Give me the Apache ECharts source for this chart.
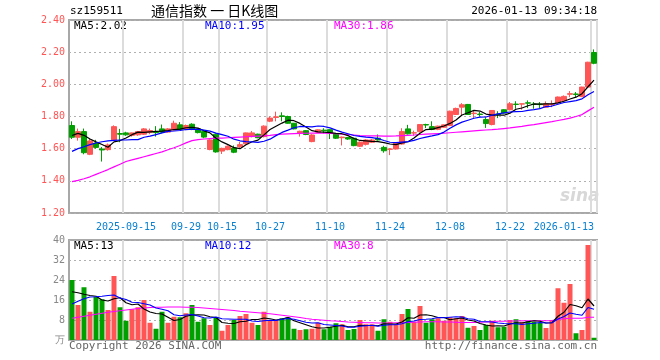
<!DOCTYPE html>
<html><head><meta charset="utf-8">
<script src="https://cdn.jsdelivr.net/npm/echarts@6/dist/echarts.min.js"></script>
<style>html,body{margin:0;padding:0;background:#fff}#c{width:660px;height:360px}</style>
</head><body><div id="c"></div>
<script>
const dates = ['2025-09-02','2025-09-03','2025-09-04','2025-09-05','2025-09-08','2025-09-09','2025-09-10','2025-09-11','2025-09-12','2025-09-15','2025-09-16','2025-09-17','2025-09-18','2025-09-19','2025-09-22','2025-09-23','2025-09-24','2025-09-25','2025-09-26','2025-09-29','2025-09-30','2025-10-09','2025-10-10','2025-10-13','2025-10-14','2025-10-15','2025-10-16','2025-10-17','2025-10-20','2025-10-21','2025-10-22','2025-10-23','2025-10-24','2025-10-27','2025-10-28','2025-10-29','2025-10-30','2025-10-31','2025-11-03','2025-11-04','2025-11-05','2025-11-06','2025-11-07','2025-11-10','2025-11-11','2025-11-12','2025-11-13','2025-11-14','2025-11-17','2025-11-18','2025-11-19','2025-11-20','2025-11-21','2025-11-24','2025-11-25','2025-11-26','2025-11-27','2025-11-28','2025-12-01','2025-12-02','2025-12-03','2025-12-04','2025-12-05','2025-12-08','2025-12-09','2025-12-10','2025-12-11','2025-12-12','2025-12-15','2025-12-16','2025-12-17','2025-12-18','2025-12-19','2025-12-22','2025-12-23','2025-12-24','2025-12-25','2025-12-26','2025-12-29','2025-12-30','2025-12-31','2026-01-05','2026-01-06','2026-01-07','2026-01-08','2026-01-09','2026-01-12','2026-01-13'];

const opens = [1.744,1.671,1.706,1.565,1.635,1.598,1.594,1.654,1.694,1.698,
1.683,1.686,1.690,1.700,1.704,1.723,1.703,1.717,1.748,1.720,
1.752,1.723,1.706,1.595,1.690,1.585,1.594,1.604,1.612,1.630,
1.675,1.690,1.675,1.771,1.794,1.804,1.800,1.758,1.698,1.712,
1.644,1.702,1.715,1.718,1.692,1.668,1.669,1.665,1.615,1.627,
1.640,1.665,1.608,1.596,1.598,1.629,1.723,1.697,1.706,1.750,
1.737,1.720,1.733,1.744,1.8125,1.858,1.875,1.818,1.815,1.781,
1.750,1.815,1.842,1.842,1.877,1.877,1.885,1.877,1.877,1.858,
1.874,1.885,1.900,1.938,1.940,1.925,1.983,2.198];
const closes = [1.671,1.706,1.575,1.648,1.608,1.592,1.623,1.737,1.690,1.686,
1.698,1.706,1.723,1.713,1.700,1.703,1.723,1.758,1.720,1.744,
1.720,1.700,1.672,1.654,1.580,1.602,1.615,1.578,1.625,1.698,
1.698,1.668,1.740,1.790,1.798,1.800,1.758,1.723,1.708,1.688,
1.685,1.717,1.710,1.700,1.665,1.672,1.660,1.619,1.640,1.654,
1.654,1.654,1.587,1.598,1.633,1.706,1.692,1.699,1.750,1.747,
1.719,1.740,1.748,1.833,1.850,1.873,1.8125,1.821,1.8125,1.756,
1.8375,1.8125,1.821,1.879,1.875,1.879,1.883,1.875,1.874,1.879,
1.877,1.921,1.925,1.942,1.937,1.983,2.1375,2.131];
const lows = [1.660,1.650,1.565,1.560,1.600,1.520,1.588,1.650,1.640,1.680,
1.675,1.680,1.685,1.690,1.675,1.695,1.700,1.712,1.715,1.715,
1.715,1.695,1.665,1.590,1.575,1.567,1.590,1.572,1.605,1.625,
1.670,1.665,1.670,1.765,1.770,1.770,1.755,1.720,1.675,1.684,
1.640,1.700,1.695,1.660,1.660,1.620,1.655,1.615,1.610,1.620,
1.635,1.650,1.575,1.560,1.595,1.625,1.688,1.680,1.700,1.728,
1.715,1.715,1.730,1.740,1.810,1.806,1.810,1.790,1.800,1.729,
1.745,1.790,1.818,1.838,1.848,1.842,1.852,1.848,1.848,1.855,
1.858,1.880,1.898,1.920,1.917,1.920,1.980,2.125];
const highs = [1.770,1.725,1.725,1.660,1.655,1.610,1.632,1.745,1.723,1.705,
1.700,1.710,1.728,1.725,1.740,1.750,1.728,1.774,1.765,1.750,
1.758,1.728,1.710,1.658,1.695,1.606,1.620,1.620,1.643,1.700,
1.710,1.693,1.745,1.800,1.830,1.826,1.805,1.760,1.712,1.716,
1.690,1.720,1.727,1.720,1.695,1.675,1.672,1.668,1.645,1.658,
1.660,1.688,1.618,1.602,1.636,1.727,1.748,1.712,1.753,1.755,
1.770,1.743,1.750,1.836,1.855,1.883,1.878,1.838,1.828,1.796,
1.840,1.833,1.845,1.890,1.895,1.880,1.900,1.890,1.890,1.894,
1.900,1.924,1.931,1.958,1.952,1.985,2.140,2.217];

const ma5 = [1.682,1.695,1.683,1.660,1.642,1.626,1.609,1.642,1.650,1.666,
1.687,1.703,1.701,1.705,1.708,1.709,1.712,1.719,1.721,1.730,
1.733,1.728,1.711,1.698,1.665,1.642,1.625,1.606,1.600,1.624,
1.643,1.653,1.686,1.719,1.739,1.759,1.777,1.774,1.757,1.735,
1.712,1.704,1.702,1.700,1.695,1.693,1.681,1.663,1.651,1.649,
1.645,1.644,1.638,1.629,1.625,1.636,1.643,1.666,1.696,1.719,
1.721,1.731,1.741,1.757,1.778,1.809,1.823,1.838,1.834,1.815,
1.808,1.808,1.808,1.821,1.845,1.853,1.867,1.878,1.877,1.878,
1.878,1.885,1.895,1.909,1.920,1.942,1.985,2.026];
const ma10 = [1.583,1.600,1.612,1.625,1.635,1.643,1.649,1.652,1.654,1.654,
1.656,1.656,1.671,1.678,1.687,1.698,1.708,1.710,1.713,1.719,
1.721,1.720,1.715,1.709,1.697,1.687,1.677,1.659,1.649,1.644,
1.642,1.639,1.646,1.659,1.681,1.701,1.715,1.730,1.738,1.737,
1.736,1.741,1.738,1.729,1.715,1.703,1.693,1.682,1.676,1.672,
1.669,1.663,1.651,1.640,1.637,1.641,1.644,1.652,1.663,1.672,
1.679,1.687,1.703,1.727,1.748,1.765,1.777,1.789,1.796,1.797,
1.808,1.816,1.823,1.828,1.830,1.831,1.838,1.843,1.849,1.862,
1.865,1.876,1.887,1.893,1.899,1.910,1.935,1.955];
const ma30 = [1.395,1.403,1.413,1.425,1.440,1.455,1.470,1.487,1.503,1.520,
1.530,1.540,1.550,1.560,1.570,1.580,1.593,1.606,1.620,1.636,
1.650,1.656,1.660,1.663,1.665,1.666,1.668,1.670,1.672,1.674,
1.676,1.678,1.680,1.683,1.687,1.690,1.692,1.694,1.695,1.696,
1.697,1.697,1.696,1.695,1.693,1.690,1.688,1.685,1.682,1.680,
1.679,1.679,1.678,1.678,1.679,1.681,1.683,1.685,1.688,1.690,
1.692,1.694,1.696,1.699,1.702,1.705,1.708,1.711,1.714,1.716,
1.718,1.721,1.725,1.729,1.734,1.739,1.745,1.750,1.756,1.762,
1.768,1.775,1.782,1.790,1.800,1.812,1.835,1.858];

const volumes = [24,14,21.1,11.3,17.3,16.3,12,25.6,13.1,7.7,
12.3,13.1,16,6.9,4.5,11.3,6.9,9.3,9.1,10.7,
14,7.3,8.7,6,9.1,3.7,6,8,9.6,10.4,
6.9,6,11.3,8,8,8.7,9.1,4.5,4,4.3,
4.5,6.9,4.3,5.3,6.7,6.3,4,4.4,8,6.3,
6.3,3.7,8.3,7.3,6.3,10.4,12.4,7.3,13.6,6.9,
8.3,8.7,7.7,9.1,8.7,9.6,4.9,5.6,4,6,
7.7,5.1,5.3,8,8.3,7.3,7.7,7.3,6.9,4.8,
8,20.7,14.9,22.4,2.7,4,38,0.9];
const vma5 = [19.3,18.9,18.3,17.8,17.5,16.0,15.6,16.5,16.9,14.9,
14.1,14.4,12.4,11.2,10.6,10.4,9.1,7.8,8.2,9.5,
10.0,10.1,10.0,9.3,9.0,7.0,6.7,6.6,7.3,7.5,
8.2,8.2,8.8,8.5,8.0,8.4,9.0,7.7,6.9,6.1,
5.3,4.8,4.8,5.1,5.5,5.9,5.3,5.3,5.9,5.8,
5.8,5.7,6.5,6.4,6.4,7.2,8.9,8.7,10.0,10.1,
9.7,9.0,9.0,8.1,8.5,8.8,8.0,7.6,6.6,6.0,
5.6,5.7,5.6,6.4,6.9,6.8,7.3,7.7,7.5,6.8,
6.9,9.5,11.1,14.2,13.7,12.9,16.4,13.6];
const vma10 = [14.4,15.5,16.5,17.2,17.3,17.5,17.8,18.0,16.8,16.2,
15.1,15.0,14.5,14.0,12.8,12.3,11.7,10.1,9.7,10.0,
10.2,9.6,8.9,8.8,9.2,8.5,8.4,8.3,8.3,8.3,
7.6,7.4,7.7,7.9,7.8,8.3,8.6,8.3,7.7,7.1,
6.8,6.9,6.2,6.0,5.8,5.6,5.1,5.1,5.5,5.7,
5.9,5.5,5.9,6.1,6.1,6.5,7.3,7.6,8.2,8.3,
8.5,9.0,8.9,9.1,9.3,9.2,8.5,8.3,7.4,7.3,
7.2,6.8,6.6,6.5,6.5,6.2,6.5,6.7,7.0,6.8,
6.9,8.4,9.4,10.8,10.3,9.9,13.0,12.3];
const vma30 = [8.7,9.1,9.5,9.9,10.3,10.7,11.1,11.4,11.7,12.0,
12.3,12.6,12.8,13.0,13.1,13.1,13.2,13.2,13.2,13.1,
13.1,13.0,12.8,12.6,12.4,12.2,12.0,11.8,11.5,11.3,
11.1,10.9,10.7,10.5,10.2,9.9,9.6,9.3,9.0,8.6,
8.3,8.1,7.9,7.7,7.6,7.4,7.2,7.1,7.0,6.9,
6.9,6.8,6.8,6.8,6.9,6.9,7.0,7.1,7.2,7.3,
7.3,7.3,7.2,7.2,7.1,7.0,7.0,7.0,7.1,7.2,
7.4,7.5,7.5,7.6,7.6,7.7,7.7,7.7,7.7,7.7,
7.8,8.2,8.5,8.7,8.7,8.7,9.1,9.1];

const tickDates = ['2025-09-15','2025-09-29','2025-10-15','2025-10-27','2025-11-10','2025-11-24','2025-12-08','2025-12-22','2026-01-13'];
const tickLabels = ['2025-09-15','09-29','10-15','10-27','11-10','11-24','12-08','12-22','2026-01-13'];
const priceTicks = [1.20,1.40,1.60,1.80,2.00,2.20,2.40];
const volTicks = [0,8,16,24,32,40];

const RED = '#ff5555', GREEN = '#00a000';
const MONO = 'DejaVu Sans Mono';
const chart = echarts.init(document.getElementById('c'), null, {renderer:'canvas'});

const candleData = dates.map((d,i)=>[opens[i],closes[i],lows[i],highs[i]]);
const volData = volumes.map((v,i)=>({value:v,itemStyle:{color: closes[i]>=opens[i]?RED:GREEN}}));

function line(name,data,color,xi,yi){
  return {name,type:'line',data,xAxisIndex:xi,yAxisIndex:yi,showSymbol:false,symbol:'none',
    lineStyle:{color,width:1.2},itemStyle:{color},z:5};
}
const vSplit = {show:true, interval:(i)=>tickDates.includes(dates[i]),
  lineStyle:{color:'#dcdcdc',width:2,type:'solid'}};
const option = {
  animation:false,
  backgroundColor:'#fff',
  grid:[
    {left:69,right:63,top:20,height:193,show:true,borderColor:'#a8a8a8',borderWidth:2},
    {left:69,right:63,top:240,height:100,show:true,borderColor:'#a8a8a8',borderWidth:2}
  ],
  xAxis:[
    {type:'category',data:dates,gridIndex:0,boundaryGap:true,
     axisLine:{show:false},axisTick:{show:false},splitLine:vSplit,
     axisLabel:{interval:(i,v)=>tickDates.includes(v),formatter:v=>tickLabels[tickDates.indexOf(v)],
       color:'#0a80d0',fontFamily:MONO,fontSize:10,margin:9,alignMaxLabel:'right'}},
    {type:'category',data:dates,gridIndex:1,boundaryGap:true,
     axisLine:{show:false},axisTick:{show:false},axisLabel:{show:false},splitLine:vSplit}
  ],
  yAxis:[
    {type:'value',gridIndex:0,min:priceTicks[0],max:priceTicks[priceTicks.length-1],interval:0.2,
     axisLine:{show:false},axisTick:{show:false},
     axisLabel:{formatter:v=>v.toFixed(2),color:RED,fontFamily:MONO,fontSize:10,margin:4},
     splitLine:{lineStyle:{color:'#b0b0b0',type:[2,3],width:1}}},
    {type:'value',gridIndex:1,min:volTicks[0],max:volTicks[volTicks.length-1],interval:8,
     axisLine:{show:false},axisTick:{show:false},
     axisLabel:{formatter:v=>v===0?'万':String(v),color:'#888',fontFamily:MONO,fontSize:10,margin:4},
     splitLine:{lineStyle:{color:'#b0b0b0',type:[2,3],width:1}}}
  ],
  series:[
    line('MA30',ma30,'#ff00ff',0,0),
    {name:'K',type:'candlestick',data:candleData,xAxisIndex:0,yAxisIndex:0,barWidth:5,
     itemStyle:{color:RED,color0:GREEN,borderColor:RED,borderColor0:GREEN,borderWidth:1},z:3},
    line('MA5',ma5,'#000000',0,0),
    line('MA10',ma10,'#0000ff',0,0),
    line('VMA30',vma30,'#ff00ff',1,1),
    {name:'VOL',type:'bar',data:volData,xAxisIndex:1,yAxisIndex:1,barWidth:5,z:3},
    line('VMA5',vma5,'#000000',1,1),
    line('VMA10',vma10,'#0000ff',1,1)
  ],
  graphic:[
    {type:'text',left:70,top:6,style:{text:'sz159511',font:'11px '+MONO,fill:'#000'}},
    {type:'text',left:151,top:4,style:{text:'通信指数 一 日K线图',font:'14px "Noto Sans CJK SC"',fill:'#000'}},
    {type:'text',right:63,top:6,style:{text:'2026-01-13 09:34:18',font:'11px '+MONO,fill:'#000'}},
    {type:'text',left:74,top:21,style:{text:'MA5:2.02',font:'11px '+MONO,fill:'#000'}},
    {type:'text',left:205,top:21,style:{text:'MA10:1.95',font:'11px '+MONO,fill:'#0000ff'}},
    {type:'text',left:334,top:21,style:{text:'MA30:1.86',font:'11px '+MONO,fill:'#ff00ff'}},
    {type:'text',left:74,top:241,style:{text:'MA5:13',font:'11px '+MONO,fill:'#000'}},
    {type:'text',left:205,top:241,style:{text:'MA10:12',font:'11px '+MONO,fill:'#0000ff'}},
    {type:'text',left:334,top:241,style:{text:'MA30:8',font:'11px '+MONO,fill:'#ff00ff'}},
    {type:'text',left:69,top:341,style:{text:'Copyright 2026 SINA.COM',font:'11px '+MONO,fill:'#666'}},
    {type:'text',right:63,top:341,style:{text:'http://finance.sina.com.cn',font:'11px '+MONO,fill:'#666'}},
    {type:'text',left:560,top:188,style:{text:'sina',font:'italic bold 17px "DejaVu Sans"',fill:'#d8d8d8'}}
  ]
};
chart.setOption(option);
</script></body></html>
